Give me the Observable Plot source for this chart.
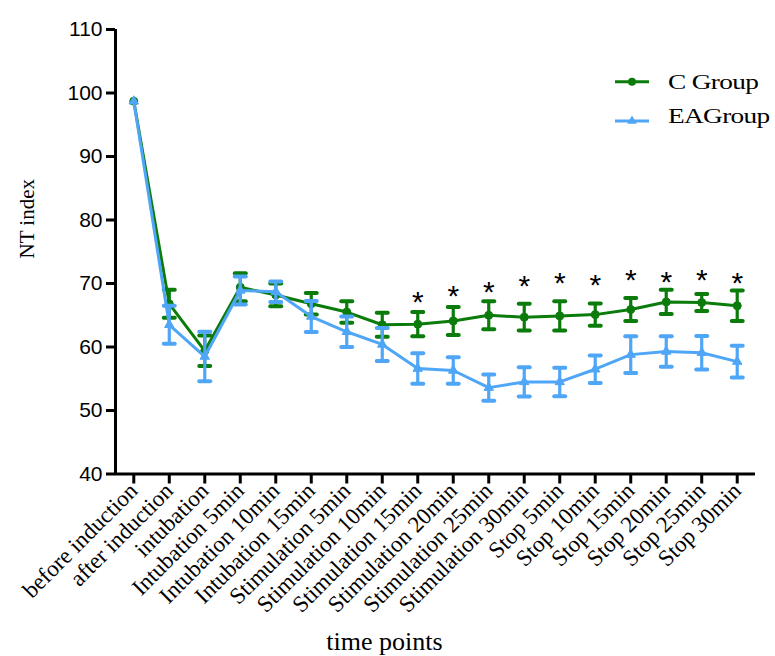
<!DOCTYPE html>
<html><head><meta charset="utf-8">
<script src="https://cdn.jsdelivr.net/npm/d3@7"></script>
<script src="https://cdn.jsdelivr.net/npm/@observablehq/plot@0.6"></script>
<style>body{margin:0;background:#fff}</style>
</head><body><div id="chart"></div>
<script>
const timePoints = ["before induction","after induction","intubation","Intubation 5min","Intubation 10min","Intubation 15min","Stimulation 5min","Stimulation 10min","Stimulation 15min","Stimulation 20min","Stimulation 25min","Stimulation 30min","Stop 5min","Stop 10min","Stop 15min","Stop 20min","Stop 25min","Stop 30min"];
const cMean  = [98.7, 66.8, 59.4, 69.4, 68.2, 66.8, 65.5, 63.5, 63.6, 64.1, 65.0, 64.7, 64.9, 65.1, 65.9, 67.1, 67.0, 66.5];
const cErr   = [0, 2.2, 2.4, 2.2, 1.8, 1.7, 1.7, 1.9, 1.9, 2.2, 2.2, 2.1, 2.3, 1.75, 1.8, 1.9, 1.35, 2.4];
const eaMean = [98.7, 63.5, 58.5, 68.9, 68.7, 64.8, 62.4, 60.4, 56.6, 56.3, 53.6, 54.5, 54.5, 56.5, 58.8, 59.3, 59.1, 57.7];
const eaErr  = [0, 3.0, 3.9, 2.2, 1.6, 2.45, 2.4, 2.6, 2.4, 2.1, 2.05, 2.3, 2.25, 2.15, 2.9, 2.4, 2.65, 2.5];
const starIndex = [8, 9, 10, 11, 12, 13, 14, 15, 16, 17];
const starY = [68.3, 69.3, 69.9, 70.8, 71.25, 70.9, 71.8, 71.5, 71.8, 71.25];
const yTicks = [40, 50, 60, 70, 80, 90, 100, 110];
const groupNames = ["C Group", "EAGroup"];
const green = "#0b7c0b", blue = "#4fa6f7";

const cRows = timePoints.map((t, i) => ({i, mean: cMean[i], err: cErr[i]}));
const eaRows = timePoints.map((t, i) => ({i, mean: eaMean[i], err: eaErr[i]}));
const stars = starIndex.map((i, k) => ({i, y: starY[k]}));

const cap = {draw(ctx) { ctx.moveTo(-5.5, 0); ctx.lineTo(5.5, 0); }};
const xDomain = [-0.515, 17.515];
const serif = "Liberation Serif, Times New Roman, serif";
const sans = "Liberation Sans, Arial, sans-serif";

function series(rows, color, symbol, r) {
  const e = rows.filter(d => d.err > 0);
  return [
    Plot.line(rows, {x: "i", y: "mean", stroke: color, strokeWidth: 3}),
    Plot.ruleX(e, {x: "i", y1: d => d.mean - d.err, y2: d => d.mean + d.err, stroke: color, strokeWidth: 3.2}),
    Plot.dot(e, {x: "i", y: d => d.mean + d.err, symbol: cap, stroke: color, strokeWidth: 4, strokeLinecap: "round", fill: "none"}),
    Plot.dot(e, {x: "i", y: d => d.mean - d.err, symbol: cap, stroke: color, strokeWidth: 4, strokeLinecap: "round", fill: "none"}),
    Plot.dot(rows, {x: "i", y: "mean", symbol, r, fill: color, stroke: color, strokeWidth: 1})
  ];
}

const chart = Plot.plot({
  width: 775, height: 656,
  marginLeft: 115, marginRight: 20, marginTop: 29, marginBottom: 182.5,
  style: {background: "#fff", color: "#000"},
  x: {domain: xDomain, axis: null},
  y: {domain: [40, 110], axis: null},
  marks: [
    Plot.axisY({ticks: yTicks, tickSize: 9, tickPadding: 4, fontSize: 21, fontFamily: sans, strokeWidth: 3, label: null}),
    Plot.axisX({ticks: d3.range(timePoints.length), tickFormat: i => timePoints[i], tickRotate: -45, tickSize: 10, tickPadding: 3, fontSize: 23, fontFamily: serif, strokeWidth: 3, label: null}),
    Plot.ruleX([xDomain[0]], {strokeWidth: 3}),
    Plot.ruleY([40], {strokeWidth: 3}),
    ...series(cRows, green, "circle", 4),
    ...series(eaRows, blue, "triangle", 3.5),
    Plot.text(stars, {x: "i", y: "y", text: () => "*", fontSize: 30, fontFamily: sans, dy: 8, fill: "#000"}),
    Plot.text(["time points"], {frameAnchor: "bottom", lineAnchor: "middle", dx: -51, dy: 168, fontSize: 26, fontFamily: serif, fill: "#000"}),
    Plot.text(["NT index"], {frameAnchor: "left", textAnchor: "middle", lineAnchor: "middle", dx: -88, dy: -33, rotate: -90, fontSize: 21, fontFamily: serif, fill: "#000"})
  ]
});
document.getElementById("chart").appendChild(chart);

// legend
const svg = d3.select(chart);
const lg = svg.append("g").attr("text-anchor", "start");
[[green, 81.7, "circle"], [blue, 121, "triangle"]].forEach(([c, y, s], k) => {
  lg.append("line").attr("x1", 615).attr("x2", 649).attr("y1", y).attr("y2", y).attr("stroke", c).attr("stroke-width", 3);
  lg.append("path").attr("transform", `translate(632,${y})`).attr("d", d3.symbol(s === "circle" ? d3.symbolCircle : d3.symbolTriangle, s === "circle" ? 50 : 40)()).attr("fill", c);
  lg.append("text").attr("transform", `translate(668,${k ? 123 : 89}) scale(1.3,1)`).attr("text-anchor", "start").attr("font-family", serif).attr("font-size", 21).attr("letter-spacing", -0.5).attr("fill", "#000").text(groupNames[k]);
});
</script></body></html>
